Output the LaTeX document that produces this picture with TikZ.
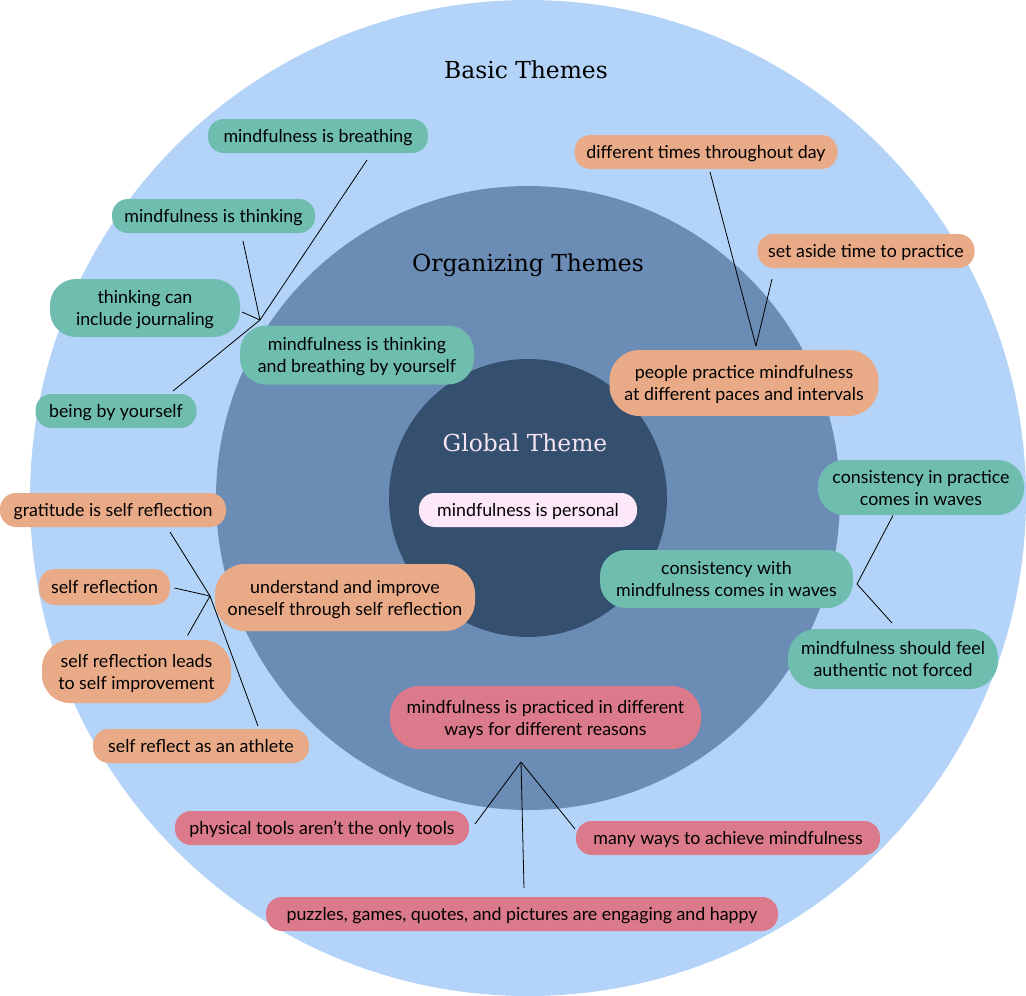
\documentclass[tikz,border=0pt]{standalone}
\usepackage{fontspec}
\setmainfont{Lato}
\newfontfamily\titlefont{DejaVu Serif}
\usetikzlibrary{calc}
\definecolor{outerc}{HTML}{B3D4F8}
\definecolor{midc}{HTML}{6A8CB5}
\definecolor{innerc}{HTML}{35506F}
\definecolor{greenc}{HTML}{6FBDAE}
\definecolor{orangec}{HTML}{E9AA88}
\definecolor{pinkc}{HTML}{DB7A8A}
\definecolor{paleC}{HTML}{FCE8F8}
\definecolor{globtxt}{HTML}{F6E4F2}
\tikzset{
  bubble/.style={draw=none, align=center, inner sep=0pt, text height=17.5pt, text depth=4pt, font=\fontsize{17.8}{22}\selectfont, text=black},
  oneline/.style={bubble, minimum height=34pt, rounded corners=16pt},
  twoline/.style={bubble, text height=39.5pt, rounded corners=26pt},
  gn/.style={fill=greenc},
  on/.style={fill=orangec},
  pn/.style={fill=pinkc},
  link/.style={draw=black, line width=0.8pt},
  ttl/.style={font=\titlefont\fontsize{23.4}{27}\selectfont}
}
\begin{document}
\begin{tikzpicture}[x=1pt,y=-1pt]
\useasboundingbox (0,0) rectangle (1026,996);
\fill[outerc] (528,498) circle (498);
\fill[midc] (528,498) circle (312);
\fill[innerc] (528,498) circle (139);

\node[ttl] (basic) at (526,70) {Basic Themes};
\node[ttl] (org) at (528,265) {Organizing Themes};
\node[ttl, text=globtxt] (glob) at (525,443) {Global Theme};

\node[oneline, fill=paleC, minimum width=218pt] (personal) at (528,510) {mindfulness is personal};

% green upper-left group
\node[oneline, gn, minimum width=220pt] (breath) at (318,136) {mindfulness is breathing};
\node[oneline, gn, minimum width=203pt] (think) at (213.5,216) {mindfulness is thinking};
\node[twoline, gn, minimum width=190pt, minimum height=58pt] (journal) at (145,308) {thinking can\\include journaling};
\node[twoline, gn, minimum width=234pt, minimum height=59pt] (tb) at (357,355) {mindfulness is thinking\\and breathing by yourself};
\node[oneline, gn, minimum width=161pt] (being) at (116,411) {being by yourself};
\coordinate (j1) at (260,320);
\draw[link] ($(breath.center)+(49,24)$) -- (j1);
\draw[link] ($(think.center)+(29.5,25)$) -- (j1);
\draw[link] ($(journal.center)+(97,4)$) -- (j1);
\draw[link] ($(being.center)+(57,-20)$) -- (j1);

% orange upper-right group
\node[oneline, on, minimum width=263pt] (days) at (706,152) {different times throughout day};
\node[oneline, on, minimum width=217pt] (aside) at (866,251) {set aside time to practice};
\node[twoline, on, minimum width=269pt, minimum height=66pt, rounded corners=30pt] (people) at (744,383) {people practice mindfulness\\at different paces and intervals};
\coordinate (j2) at (756,346);
\draw[link] ($(days.center)+(4,20)$) -- (j2);
\draw[link] ($(aside.center)+(-94,28)$) -- (j2);

% orange left group
\node[oneline, on, minimum width=226pt] (grat) at (113,510) {gratitude is self reflection};
\node[oneline, on, minimum width=131pt, minimum height=36pt] (selfref) at (104.5,587) {self reflection};
\node[twoline, on, minimum width=189pt, minimum height=63pt, rounded corners=28pt] (leads) at (136.5,671.5) {self reflection leads\\to self improvement};
\node[oneline, on, minimum width=216pt] (athlete) at (201,746) {self reflect as an athlete};
\node[twoline, on, minimum width=260pt, minimum height=67pt, rounded corners=30pt] (understand) at (345,597.5) {understand and improve\\oneself through self reflection};
\coordinate (j3) at (210,596);
\draw[link] ($(grat.center)+(57,22)$) -- (j3);
\draw[link] ($(selfref.center)+(70,1)$) -- (j3);
\draw[link] ($(leads.center)+(51,-36)$) -- (j3);
\draw[link] ($(athlete.center)+(57,-20)$) -- (j3);

% green right group
\node[twoline, gn, minimum width=206pt, minimum height=55pt, rounded corners=26pt] (cpract) at (921,487.5) {consistency in practice\\comes in waves};
\node[twoline, gn, minimum width=253pt, minimum height=58pt] (cwith) at (726.5,579) {consistency with\\mindfulness comes in waves};
\node[twoline, gn, minimum width=210pt, minimum height=60pt, rounded corners=28pt] (auth) at (893,659) {mindfulness should feel\\authentic not forced};
\coordinate (j4) at (857,584);
\draw[link] ($(cpract.center)+(-28,28)$) -- (j4);
\draw[link] ($(auth.center)+(-1,-36)$) -- (j4);

% pink bottom group
\node[twoline, pn, minimum width=311pt, minimum height=63pt, rounded corners=29pt] (practiced) at (545.5,717.5) {mindfulness is practiced in different\\ways for different reasons};
\node[oneline, pn, minimum width=294pt] (phys) at (322,828) {physical tools aren’t the only tools};
\node[oneline, pn, minimum width=304pt] (many) at (728,838) {many ways to achieve mindfulness};
\node[oneline, pn, minimum width=512pt] (puzz) at (522,914) {puzzles, games, quotes, and pictures are engaging and happy};
\coordinate (j5) at (521,762);
\draw[link] ($(phys.center)+(153,-4)$) -- (j5);
\draw[link] ($(many.center)+(-153,-9)$) -- (j5);
\draw[link] ($(puzz.center)+(2,-26)$) -- (j5);
\end{tikzpicture}
\end{document}
